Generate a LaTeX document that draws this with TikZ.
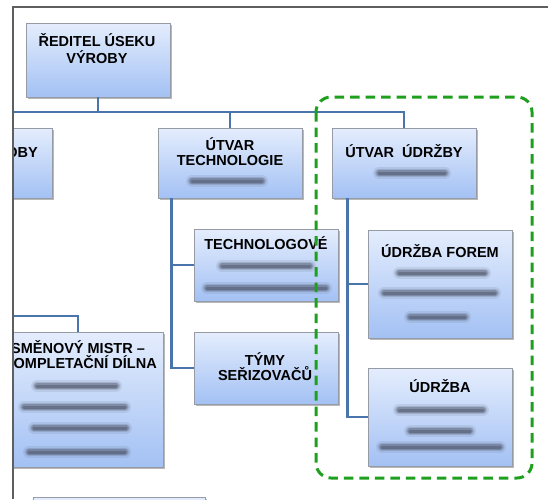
\documentclass[tikz,border=0pt]{standalone}
\usepackage{fontspec}
\setmainfont{Liberation Sans}
\usetikzlibrary{shadows}

\definecolor{boxtop}{RGB}{228,237,253}
\definecolor{boxbot}{RGB}{163,193,244}
\definecolor{boxline}{RGB}{150,155,165}
\definecolor{linkblue}{RGB}{74,116,172}
\definecolor{framegray}{RGB}{95,95,95}
\definecolor{dashgreen}{RGB}{30,160,30}
\definecolor{smudge}{RGB}{80,88,108}

\tikzset{
  unit/.style={rectangle, draw=boxline, line width=0.8pt,
    top color=boxtop, bottom color=boxbot, inner sep=0pt,
    minimum width=144pt,
    drop shadow={shadow xshift=1.6pt, shadow yshift=-2pt, fill=black, opacity=0.28}},
  lbl/.style={anchor=base, inner sep=0pt, font=\fontsize{14.5}{15}\selectfont\bfseries},
  link/.style={draw=linkblue, line width=2.4pt},
}

% blurred placeholder line: x-from, x-to, y
\newcommand\smearline[3]{%
  \foreach \w/\o in {12pt/0.12, 8.5pt/0.22, 5.5pt/0.38, 3pt/0.5}{%
    \draw[smudge, line width=\w, opacity=\o, line cap=round] (#1,#3) -- (#2,#3);}}

\begin{document}
\begin{tikzpicture}[x=1pt, y=-1pt]
\useasboundingbox (0,0) rectangle (548,499);

\begin{scope}
\clip (13,7) rectangle (548,499);

% units
\node[unit, minimum height=74pt] (dir)   at (98,60)  {};
\node[unit, minimum height=70pt] (prod)  at (-20,163) {};
\node[unit, minimum height=70pt] (tech)  at (230,163) {};
\node[unit, minimum height=70pt] (maint) at (404,163) {};
\node[unit, minimum height=72pt] (techs) at (266,265) {};
\node[unit, minimum height=72pt] (teams) at (266,368) {};
\node[unit, minimum height=108pt] (forms) at (440,284) {};
\node[unit, minimum height=98pt] (udr)   at (440,417) {};
\node[unit, minimum width=170pt, minimum height=135pt] (shift) at (78,399.5) {};
\node[unit, minimum width=172pt, minimum height=46pt] (lower) at (119,520) {};

% connectors
\coordinate (busL) at (-40,112);
\coordinate (shiftIn) at (-40,316);
\draw[link] (dir.south) -- (dir.south |- busL);
\draw[link] (busL) -- (maint.north |- busL) -- (maint.north);
\draw[link] (tech.north) -- (tech.north |- busL);
\draw[link] (prod.north) -- (prod.north |- busL);
\draw[link] (tech.south west) ++(14,0) coordinate (ts)
      -- (ts |- teams.west) -- (teams.west);
\draw[link] (ts |- techs.west) -- (techs.west);
\draw[link] (maint.south west) ++(16,0) coordinate (ms)
      -- (ms |- udr.west) -- (udr.west);
\draw[link] (ms |- forms.west) -- (forms.west);
\draw[link] (shiftIn) -| (shift.north);

% labels
\node[lbl] (dirA) at (97,46) {ŘEDITEL ÚSEKU};
\node[lbl] (dirB) at (97,63) {VÝROBY};
\node[lbl, anchor=base east] (prodA) at (38,157) {ÚTVAR VÝROBY};
\node[lbl] (techA) at (230,150) {ÚTVAR};
\node[lbl] (techB) at (230,165) {TECHNOLOGIE};
\node[lbl] (maintA) at (404,157) {ÚTVAR\ \ ÚDRŽBY};
\node[lbl] (techsA) at (266,249) {TECHNOLOGOVÉ};
\node[lbl] (teamsA) at (265,365) {TÝMY};
\node[lbl] (teamsB) at (265,380) {SEŘIZOVAČŮ};
\node[lbl] (formsA) at (440,257) {ÚDRŽBA FOREM};
\node[lbl] (udrA) at (440,392) {ÚDRŽBA};
\node[lbl] (shiftA) at (78,353) {SMĚNOVÝ MISTR –};
\node[lbl] (shiftB) at (80,368) {KOMPLETAČNÍ DÍLNA};

% blurred detail lines
\smearline{192}{262}{181}
\smearline{379}{445}{173}
\smearline{222}{310}{266}
\smearline{207}{326}{288}
\smearline{399}{485}{273}
\smearline{384}{495}{293}
\smearline{410}{465}{317}
\smearline{399}{483}{410}
\smearline{410}{470}{431}
\smearline{382}{500}{447}
\smearline{37}{116}{386}
\smearline{24}{125}{407}
\smearline{34}{126}{428}
\smearline{29}{125}{452}

% maintenance group outline
\draw[dashgreen, line width=3pt, dash pattern=on 9.5pt off 6pt, rounded corners=15pt]
  (316,97) rectangle (532,478);
\end{scope}

% page frame
\draw[framegray, line width=1.2pt] (13,499) -- (13,7) -- (548,7);
\end{tikzpicture}
\end{document}
